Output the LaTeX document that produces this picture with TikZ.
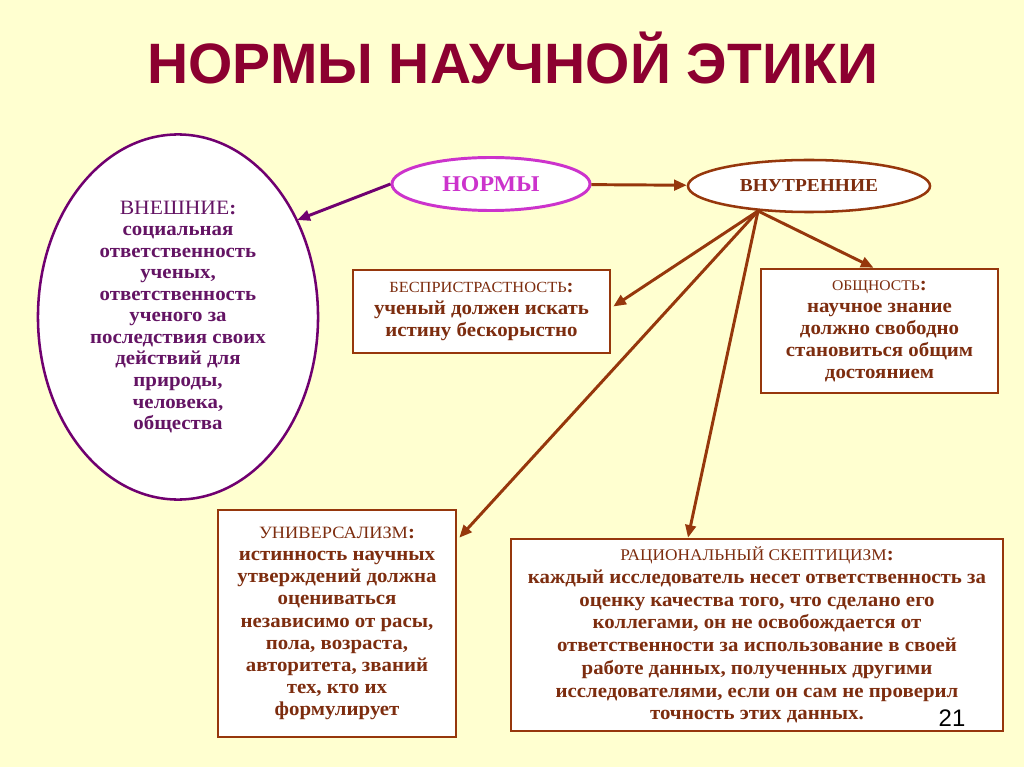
\documentclass[tikz,border=0pt]{standalone}
\usepackage{fontspec}
\setmainfont[FakeStretch=1.06]{Liberation Serif}
\newfontfamily\titlefont{Liberation Sans}
\usetikzlibrary{shapes.geometric,arrows.meta,calc}
\definecolor{bgc}{RGB}{255,255,208}
\definecolor{titlec}{RGB}{140,0,48}
\definecolor{brownc}{RGB}{150,55,12}
\definecolor{browntxt}{RGB}{125,45,15}
\definecolor{purplec}{RGB}{112,0,112}
\definecolor{purpletxt}{RGB}{100,20,100}
\definecolor{magc}{RGB}{204,51,204}
\newcommand\hdfont[1]{\mdseries\fontsize{#1}{13}\selectfont}
\begin{document}
\begin{tikzpicture}[x=0.025cm,y=-0.025cm,
  txt/.style={align=center, inner sep=0pt},
  normbox/.style={draw=brownc, line width=1.8pt, fill=white, txt, text=browntxt},
  brarrow/.style={draw=brownc, line width=2.1pt, -{Triangle[length=9pt,width=7.5pt]}},
  purarrow/.style={draw=purplec, line width=2.1pt, -{Triangle[length=9pt,width=7.5pt]}}
]
\useasboundingbox (0,0) rectangle (1024,767);
\fill[bgc] (0,0) rectangle (1024,767);

\node[font=\titlefont\bfseries\fontsize{40.5}{46}\selectfont, text=titlec, anchor=base] (title) at (513,84) {НОРМЫ НАУЧНОЙ ЭТИКИ};

\node[ellipse, draw=purplec, line width=1.8pt, fill=white, minimum width=7cm, minimum height=9.125cm, txt, text=purpletxt, font=\bfseries\fontsize{14}{15.3}\selectfont] (vnesh) at (178,317)
  {{\hdfont{14.5}ВНЕШНИЕ}:\\ социальная\\ ответственность\\ ученых,\\ ответственность\\ ученого за\\ последствия своих\\ действий для\\ природы,\\ человека,\\ общества};

\node[ellipse, draw=magc, line width=2.1pt, fill=white, minimum width=4.95cm, minimum height=1.325cm, inner sep=0pt, text=magc, font=\bfseries\fontsize{16}{18}\selectfont] (normy) at (491,184) {НОРМЫ};

\node[ellipse, draw=brownc, line width=1.8pt, fill=white, minimum width=6.05cm, minimum height=1.3cm, inner sep=0pt, text=browntxt, font=\bfseries\fontsize{13}{15}\selectfont] (vnutr) at (809,186) {ВНУТРЕННИЕ};

\node[normbox, minimum width=6.425cm, minimum height=2.075cm, font=\bfseries\fontsize{14}{15.3}\selectfont] (bes) at (481.5,311.5)
  {{\hdfont{11}БЕСПРИСТРАСТНОСТЬ}:\\ ученый должен искать\\ истину бескорыстно};

\node[normbox, minimum width=5.925cm, minimum height=3.1cm, font=\bfseries\fontsize{14}{15.6}\selectfont] (obsh) at (879.5,331)
  {{\hdfont{10.5}ОБЩНОСТЬ}:\\ научное знание\\ должно свободно\\ становиться общим\\ достоянием};

\node[normbox, minimum width=5.95cm, minimum height=5.675cm, font=\bfseries\fontsize{14}{15.8}\selectfont] (univ) at (337,623.5)
  {{\hdfont{12.3}УНИВЕРСАЛИЗМ}:\\ истинность научных\\ утверждений должна\\ оцениваться\\ независимо от расы,\\ пола, возраста,\\ авторитета, званий\\ тех, кто их\\ формулирует};

\node[normbox, minimum width=12.3cm, minimum height=4.8cm, font=\bfseries\fontsize{14}{16.2}\selectfont] (rac) at (757,635)
  {{\hdfont{11.6}РАЦИОНАЛЬНЫЙ СКЕПТИЦИЗМ}:\\ каждый исследователь несет ответственность за\\ оценку качества того, что сделано его\\ коллегами, он не освобождается от\\ ответственности за использование в своей\\ работе данных, полученных другими\\ исследователями, если он сам не проверил\\ точность этих данных.};

\node[font=\titlefont\fontsize{17}{20}\selectfont, text=black] (num) at (952,718) {21};

\coordinate (vb) at (758,211);

\draw[brarrow] (normy) -- (vnutr);
\draw[purarrow] (normy.west) -- ($(vnesh.east)+(-22,-97)$);
\draw[brarrow] (vb) -- ($(bes.east)+(2,-5)$);
\draw[brarrow] (vb) -- ($(obsh.north)+(-6,0)$);
\draw[brarrow] (vb) -- ($(univ.north east)+(2,29)$);
\draw[brarrow] (vb) -- ($(rac.north)+(-69,0)$);
\end{tikzpicture}
\end{document}
